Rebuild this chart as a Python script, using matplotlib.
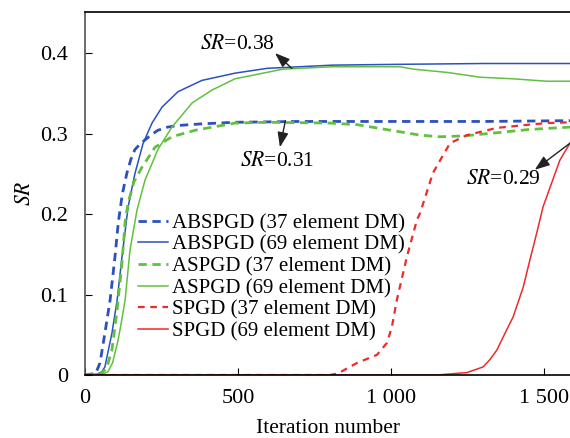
import numpy as np
import matplotlib.pyplot as plt

plt.rcParams['font.family'] = ['Liberation Serif', 'DejaVu Serif']
plt.rcParams['mathtext.fontset'] = 'stix'

# iteration numbers and SR values
abs37_x = [0, 35, 49, 65, 82, 98, 109, 122, 137, 150, 163, 180, 196, 215, 238, 270, 304, 380, 490, 700, 1000, 1300, 1585]
abs37_y = [0, 0.002, 0.015, 0.052, 0.093, 0.147, 0.19, 0.225, 0.251, 0.268, 0.28, 0.287, 0.292, 0.298, 0.304, 0.308, 0.31, 0.312, 0.314, 0.315, 0.315, 0.315, 0.316]

abs69_x = [0, 40, 55, 65, 88, 105, 121, 130, 141, 163, 190, 219, 252, 304, 382, 490, 595, 810, 1029, 1300, 1585]
abs69_y = [0, 0.001, 0.004, 0.01, 0.052, 0.093, 0.147, 0.175, 0.209, 0.25, 0.288, 0.313, 0.333, 0.352, 0.366, 0.375, 0.381, 0.385, 0.386, 0.387, 0.387]

as37_x = [0, 50, 70, 88, 105, 121, 131, 141, 160, 186, 229, 284, 359, 490, 600, 800, 890, 1000, 1095, 1160, 1236, 1346, 1450, 1585]
as37_y = [0, 0.001, 0.008, 0.031, 0.081, 0.14, 0.19, 0.214, 0.24, 0.258, 0.283, 0.296, 0.304, 0.313, 0.314, 0.313, 0.311, 0.304, 0.298, 0.296, 0.297, 0.301, 0.305, 0.308]

as69_x = [0, 55, 75, 90, 108, 120, 131, 147, 170, 196, 238, 284, 350, 415, 490, 647, 810, 1029, 1073, 1182, 1291, 1399, 1509, 1585]
as69_y = [0, 0.001, 0.004, 0.015, 0.043, 0.068, 0.093, 0.155, 0.205, 0.242, 0.28, 0.308, 0.338, 0.354, 0.368, 0.38, 0.383, 0.383, 0.38, 0.376, 0.37, 0.368, 0.365, 0.365]

sp37_x = [0, 800, 827, 889, 954, 987, 1003, 1019, 1052, 1085, 1095, 1137, 1170, 1193, 1248, 1346, 1450, 1509, 1585]
sp37_y = [0, 0, 0.002, 0.015, 0.025, 0.04, 0.06, 0.093, 0.147, 0.193, 0.201, 0.251, 0.273, 0.288, 0.298, 0.307, 0.311, 0.313, 0.314]

sp69_x = [0, 1150, 1248, 1301, 1323, 1346, 1378, 1399, 1432, 1454, 1476, 1497, 1552, 1585]
sp69_y = [0, 0, 0.003, 0.01, 0.019, 0.031, 0.056, 0.072, 0.109, 0.143, 0.176, 0.209, 0.267, 0.288]

labels = ['ABSPGD (37 element DM)', 'ABSPGD (69 element DM)',
          'ASPGD (37 element DM)', 'ASPGD (69 element DM)',
          'SPGD (37 element DM)', 'SPGD (69 element DM)']

blue = '#2a52be'
green = '#62c040'
red = '#ee2a2a'

fig = plt.figure(figsize=(5.7, 4.38), dpi=100)
ax = fig.add_axes([85 / 570, 63 / 438, 485 / 570, 363 / 438])

ax.plot(abs37_x, abs37_y, color=blue, lw=2, ls=(0, (3, 2)), label=labels[0])
ax.plot(abs69_x, abs69_y, color=blue, lw=1.1, label=labels[1])
ax.plot(as37_x, as37_y, color=green, lw=2, ls=(0, (3, 2)), label=labels[2])
ax.plot(as69_x, as69_y, color=green, lw=1.1, label=labels[3])
ax.plot(sp37_x, sp37_y, color=red, lw=1.6, ls=(0, (3, 2.5)), label=labels[4])
ax.plot(sp69_x, sp69_y, color=red, lw=1.1, label=labels[5])

ax.set_xlim(0, 1585)
ax.set_ylim(0, 0.451)
ax.set_xticks([0, 500, 1000, 1500])
ax.set_xticklabels(['0', '500', '1 000', '1 500'])
ax.set_yticks([0, 0.1, 0.2, 0.3, 0.4])
ax.set_yticklabels(['0', '0.1', '0.2', '0.3', '0.4'])
ax.tick_params(direction='in', labelsize=16, length=5)
ax.tick_params(axis='y', pad=12)
ax.tick_params(axis='x', pad=10)
ax.spines['right'].set_visible(False)
for s in ['left', 'bottom', 'top']:
    ax.spines[s].set_linewidth(1.2)
ax.spines['left'].set_color('#555555')

ax.set_xlabel('Iteration number', fontsize=15.5, labelpad=8)
ax.set_ylabel('$SR$', fontsize=15.5)

arr = dict(arrowstyle='-|>,head_length=0.6,head_width=0.22', color='#222222',
           lw=1, mutation_scale=15, shrinkA=0, shrinkB=0)
ax.annotate('', xy=(621, 0.4), xytext=(676, 0.381), arrowprops=arr)
ax.text(376, 0.405, '$SR$=0.38', fontsize=15.5)
ax.annotate('', xy=(637, 0.283), xytext=(655, 0.316), arrowprops=arr)
ax.text(507, 0.26, '$SR$=0.31', fontsize=15.5)
ax.annotate('', xy=(1470, 0.255), xytext=(1585, 0.288), arrowprops=arr)
ax.text(1245, 0.237, '$SR$=0.29', fontsize=15.5)

ax.legend(loc='upper left', bbox_to_anchor=(0.093, 0.468), frameon=False,
          fontsize=15, handlelength=1.4, handletextpad=0.2, labelspacing=0.1,
          borderaxespad=0)

fig.savefig('out.png', dpi=100)
